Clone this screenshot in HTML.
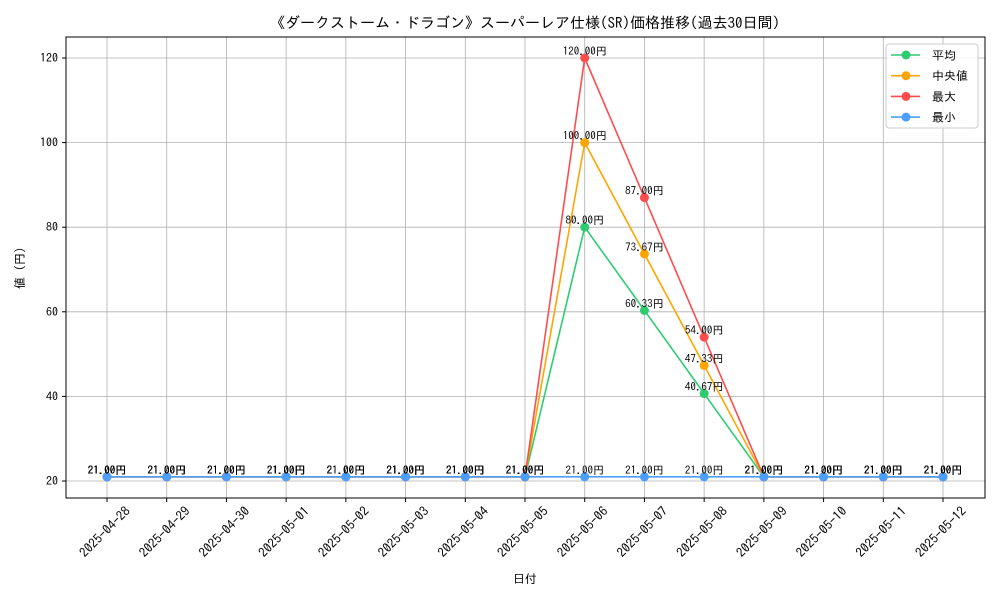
<!DOCTYPE html>
<html><head><meta charset="utf-8">
<style>
body{margin:0;background:#fff;}
svg text{font-family:"IPAGothic","Liberation Sans","Noto Sans CJK JP",sans-serif;}
</style></head>
<body>
<svg id="chart" width="1000" height="600" xmlns="http://www.w3.org/2000/svg">
<rect width="1000" height="600" fill="#fff"/>
<text x="525" y="28" text-anchor="middle" font-size="15">《ダークストーム・ドラゴン》スーパーレア仕様(SR)価格推移(過去30日間)</text>
<g id="grid"></g>
<g id="series"></g>
<rect x="66" y="37" width="919" height="461" fill="none" stroke="#000" stroke-width="1"/>
<text x="525" y="583" text-anchor="middle" font-size="12">日付</text>
<text x="24" y="268" text-anchor="middle" font-size="12" transform="rotate(-90 24 268)">値 (円)</text>
<g id="legend"></g>
</svg>
<script>
const dates=["2025-04-28","2025-04-29","2025-04-30","2025-05-01","2025-05-02","2025-05-03","2025-05-04","2025-05-05","2025-05-06","2025-05-07","2025-05-08","2025-05-09","2025-05-10","2025-05-11","2025-05-12"];
const meanVals=[21,21,21,21,21,21,21,21,80,60.33,40.67,21,21,21,21];
const medianVals=[21,21,21,21,21,21,21,21,100,73.67,47.33,21,21,21,21];
const maxVals=[21,21,21,21,21,21,21,21,120,87,54,21,21,21,21];
const minVals=[21,21,21,21,21,21,21,21,21,21,21,21,21,21,21];
const yTicks=[20,40,60,80,100,120];
const seriesNames=["平均","中央値","最大","最小"];
const NS="http://www.w3.org/2000/svg";
const xS=i=>107+i*(943-107)/(dates.length-1);
const yS=v=>481-(v-20)*(481-58)/100;
function mk(t,a,p){const e=document.createElementNS(NS,t);for(const k in a)e.setAttribute(k,a[k]);p.appendChild(e);return e;}
const grid=document.getElementById('grid'),ser=document.getElementById('series'),leg=document.getElementById('legend');
dates.forEach((d,i)=>{
  const x=xS(i);
  const g=mk('line',{x1:x,x2:x,y1:37,y2:498,stroke:'#b0b0b0','stroke-width':0.8},grid);
  
  mk('line',{x1:x,x2:x,y1:498,y2:502,stroke:'#000'},grid);
  const tx=x+24,ty=512;
  const t=mk('text',{x:tx,y:ty,'font-size':13,'text-anchor':'end',transform:`rotate(-45 ${tx} ${ty})`},grid);
  t.textContent=d;
  
});
yTicks.forEach(v=>{
  const y=yS(v);
  const g=mk('line',{x1:66,x2:985,y1:y,y2:y,stroke:'#b0b0b0','stroke-width':0.8},grid);
  
  mk('line',{x1:62,x2:66,y1:y,y2:y,stroke:'#000'},grid);
  const t=mk('text',{x:58,y:y+4,'font-size':12,'text-anchor':'end'},grid);
  t.textContent=v;
  
});
const series=[[meanVals,'#2ecc71','mean'],[medianVals,'#ffa500','median'],[maxVals,'#ff4d4d','max'],[minVals,'#4d9fff','min']];
series.forEach(([vals,c,n])=>{
  const pl=mk('polyline',{points:vals.map((v,i)=>xS(i)+','+yS(v)).join(' '),fill:'none',stroke:c,'stroke-width':1.6},ser);
  
  vals.forEach((v,i)=>{
    const p=mk('circle',{cx:xS(i),cy:yS(v),r:4.5,fill:c},ser);
    
  });
});
series.forEach(([vals,c,n])=>{
  vals.forEach((v,i)=>{
    const t=mk('text',{x:xS(i),y:yS(v)-3,'font-size':11,'text-anchor':'middle',fill:'#000'},ser);
    t.textContent=v.toFixed(2)+'円';
    
  });
});
const lb=mk('rect',{x:886,y:44,width:92,height:84,rx:3,fill:'#fff','fill-opacity':0.8,stroke:'#ccc'},leg);

series.forEach(([vals,c,n],k)=>{
  const y=55+k*20.7;
  const g=mk('g',{},leg);
  
  mk('line',{x1:891,x2:920,y1:y,y2:y,stroke:c,'stroke-width':1.6},g);
  mk('circle',{cx:906,cy:y,r:4.5,fill:c},g);
  const t=mk('text',{x:932,y:y+4.5,'font-size':12},g);
  t.textContent=(k==1?' ':'')+seriesNames[k];
});
</script>
</body></html>
